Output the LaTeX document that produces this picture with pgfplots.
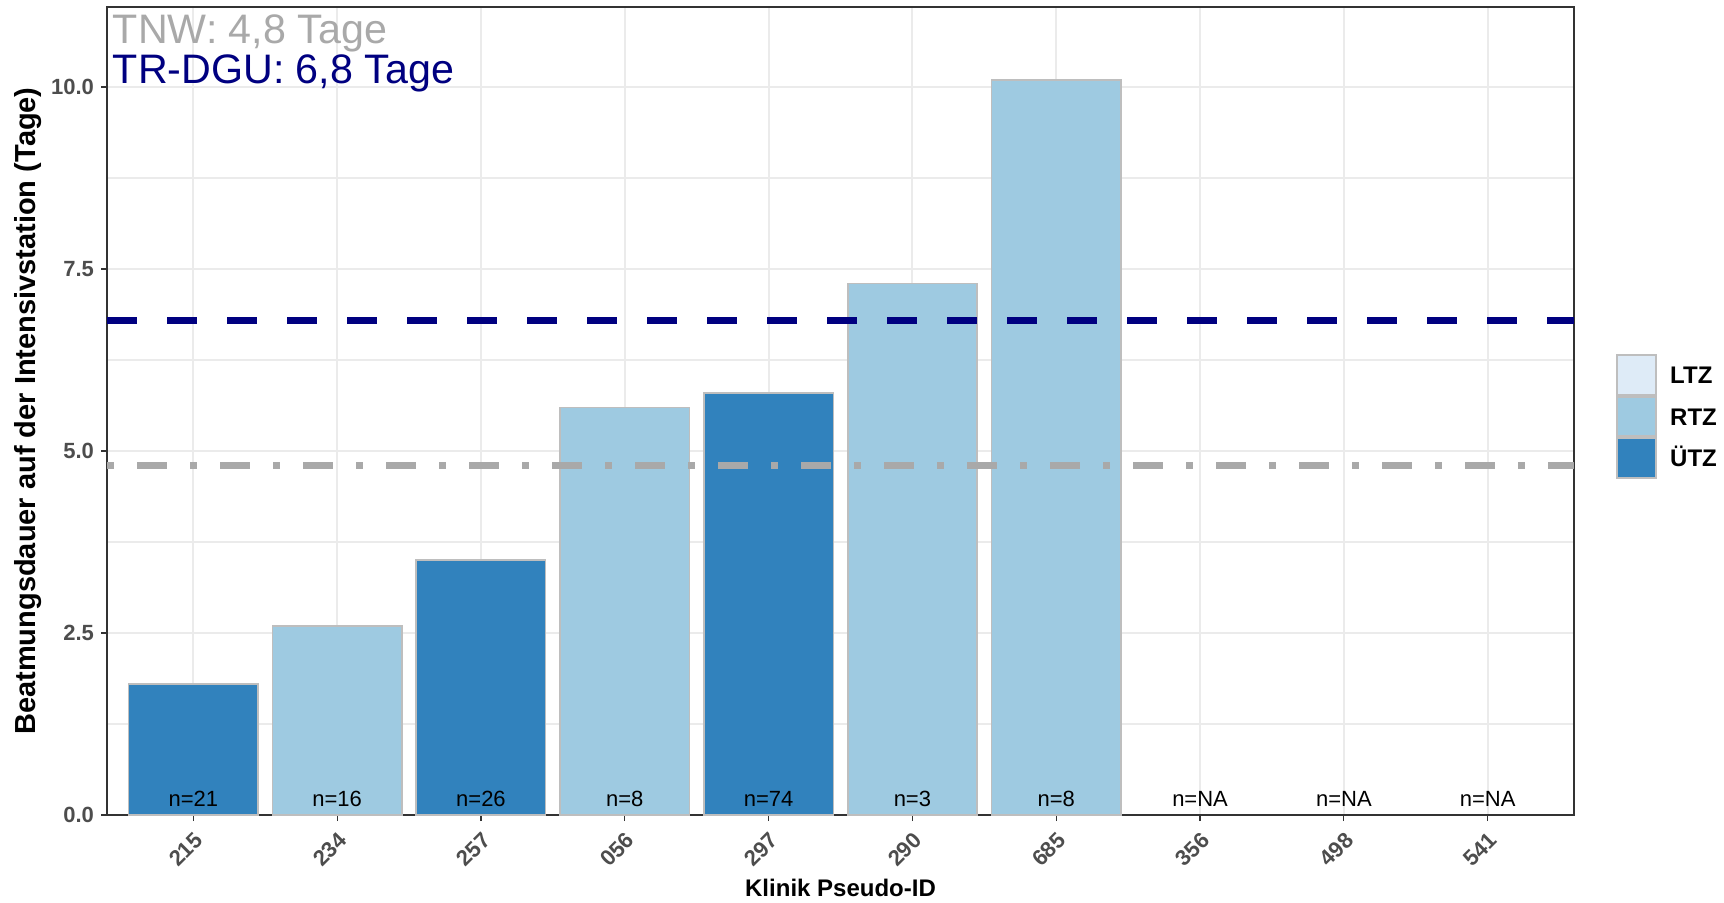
\documentclass[border=0pt]{standalone}
\usepackage{pgfplots}
\pgfplotsset{compat=1.18}
\usepackage{fontspec}
\setmainfont{Liberation Sans}
\definecolor{utz}{HTML}{3182BD}
\definecolor{rtz}{HTML}{9ECAE1}
\definecolor{ltz}{HTML}{DEEBF7}
\definecolor{bargray}{HTML}{BEBEBE}
\definecolor{gridgray}{HTML}{EBEBEB}
\definecolor{framegray}{HTML}{333333}
\definecolor{ticklab}{HTML}{4D4D4D}
\definecolor{navyblue}{HTML}{000080}
\definecolor{tnwgray}{HTML}{A9A9A9}
\begin{document}
\begin{tikzpicture}
\useasboundingbox (0,0) rectangle (862pt,451pt);
\begin{axis}[
  at={(53.5pt,43.5pt)}, anchor=south west,
  scale only axis, width=733.5pt, height=404pt,
  xmin=0.4, xmax=10.6, ymin=0, ymax=11.1,
  xtick={1,2,3,4,5,6,7,8,9,10},
  xticklabels={215,234,257,056,297,290,685,356,498,541},
  ytick={0,2.5,5,7.5,10},
  minor ytick={1.25,3.75,6.25,8.75},
  minor tick length=0pt,
  major tick length=3pt,
  tick align=outside,
  xtick pos=bottom, ytick pos=left,
  tick style={color=framegray, line width=0.6pt},
  axis line style={color=framegray, line width=0.6pt},
  xmajorgrids, ymajorgrids, yminorgrids,
  major grid style={color=gridgray, line width=1pt},
  minor grid style={color=gridgray, line width=0.6pt},
  /pgf/number format/assume math mode=true,
  yticklabel style={/pgf/number format/.cd, fixed, fixed zerofill, precision=1, /tikz/.cd,
     font=\bfseries\fontsize{11}{13}\selectfont, text=ticklab},
  xticklabel style={rotate=45, anchor=north east, font=\bfseries\fontsize{11}{13}\selectfont, text=ticklab},
  xlabel={Klinik Pseudo-ID},
  ylabel={Beatmungsdauer auf der Intensivstation (Tage)},
  xlabel style={at={(axis description cs:0.5,-0.1004)}, anchor=base, font=\bfseries\fontsize{12}{14}\selectfont},
  ylabel style={at={(axis description cs:-0.0535,0.5)}, anchor=center, font=\bfseries\fontsize{14.5}{17}\selectfont},
  legend image code/.code={\draw[#1] (0pt,-9.9pt) rectangle (19.5pt,9.9pt);},
  legend style={at={(1.0285,0.493)}, anchor=west, draw=none, fill=none, inner sep=0pt,
     row sep=0pt, column sep=6.5pt,
     nodes={inner sep=0pt, text height=8.6pt, text depth=0pt},
     font=\bfseries\fontsize{12}{14}\selectfont},
  legend cell align=left,
]
\addlegendimage{fill=ltz, draw=bargray, line width=1pt}
\addlegendentry{LTZ}
\addlegendimage{fill=rtz, draw=bargray, line width=1pt}
\addlegendentry{RTZ}
\addlegendimage{fill=utz, draw=bargray, line width=1pt}
\addlegendentry{ÜTZ}
% ÜTZ bars
\addplot[ybar, bar width=0.9, bar shift=0pt, fill=utz, draw=bargray, line width=0.8pt, forget plot]
  coordinates {(1,1.8) (3,3.5) (5,5.8)};
% RTZ bars
\addplot[ybar, bar width=0.9, bar shift=0pt, fill=rtz, draw=bargray, line width=0.8pt, forget plot]
  coordinates {(2,2.6) (4,5.6) (6,7.3) (7,10.1)};
% reference lines
\addplot[navyblue, line width=3.5pt, line cap=butt, dash pattern=on 15pt off 15pt, forget plot]
  coordinates {(0.4,6.8) (10.6,6.8)};
\addplot[tnwgray, line width=3.5pt, line cap=butt, dash pattern=on 3.5pt off 11.5pt on 15pt off 11.5pt, forget plot]
  coordinates {(0.4,4.8) (10.6,4.8)};
% n labels
\foreach \i/\t in {1/n=21,2/n=16,3/n=26,4/n=8,5/n=74,6/n=3,7/n=8,8/n=NA,9/n=NA,10/n=NA}{
  \edef\tmp{\noexpand\node[anchor=base, inner sep=0pt, yshift=4.2pt, font=\noexpand\fontsize{11}{13}\noexpand\selectfont] at (axis cs:\i,0) {\t};}
  \tmp
}
\node[anchor=base west, inner sep=0pt, text=tnwgray, font=\fontsize{20.6}{24}\selectfont] at (axis cs:0.4385,10.60) {TNW: 4,8 Tage};
\node[anchor=base west, inner sep=0pt, text=navyblue, font=\fontsize{20.6}{24}\selectfont] at (axis cs:0.4385,10.05) {TR-DGU: 6,8 Tage};
\end{axis}
\end{tikzpicture}
\end{document}
